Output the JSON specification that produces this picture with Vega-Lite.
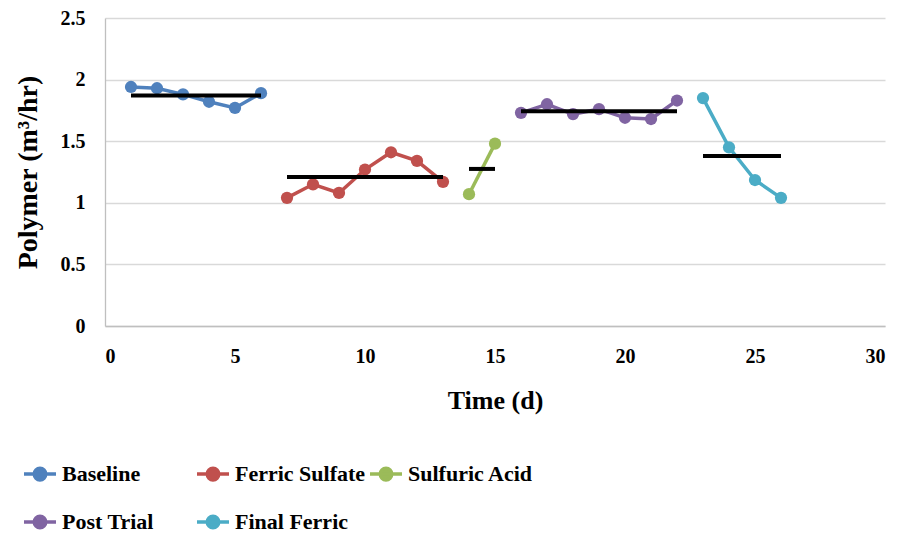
{
  "$schema": "https://vega.github.io/schema/vega-lite/v6.json",
  "width": 780,
  "height": 308,
  "autosize": {"type": "none"},
  "padding": {"left": 105, "top": 18, "right": 21, "bottom": 214},
  "background": "white",
  "config": {
    "font": "Liberation Serif",
    "view": {"stroke": null},
    "legend": {"labelFont": "Liberation Serif", "labelFontWeight": "bold", "labelFontSize": 22, "labelColor": "black"},
    "axis": {
      "labelFont": "Liberation Serif",
      "labelFontWeight": "bold",
      "labelColor": "black",
      "labelFontSize": 20,
      "titleFont": "Liberation Serif",
      "titleFontWeight": "bold",
      "titleColor": "black",
      "titleFontSize": 26,
      "domainColor": "#BFBFBF",
      "gridColor": "#D9D9D9",
      "gridWidth": 1.3,
      "domainWidth": 1.3,
      "ticks": false
    }
  },
  "datasets": {
    "points": [
      {"series": "Baseline", "day": 1, "polymer": 1.94},
      {"series": "Baseline", "day": 2, "polymer": 1.93},
      {"series": "Baseline", "day": 3, "polymer": 1.88},
      {"series": "Baseline", "day": 4, "polymer": 1.82},
      {"series": "Baseline", "day": 5, "polymer": 1.77},
      {"series": "Baseline", "day": 6, "polymer": 1.89},
      {"series": "Ferric Sulfate", "day": 7, "polymer": 1.04},
      {"series": "Ferric Sulfate", "day": 8, "polymer": 1.15},
      {"series": "Ferric Sulfate", "day": 9, "polymer": 1.08},
      {"series": "Ferric Sulfate", "day": 10, "polymer": 1.27},
      {"series": "Ferric Sulfate", "day": 11, "polymer": 1.41},
      {"series": "Ferric Sulfate", "day": 12, "polymer": 1.34},
      {"series": "Ferric Sulfate", "day": 13, "polymer": 1.17},
      {"series": "Sulfuric Acid", "day": 14, "polymer": 1.07},
      {"series": "Sulfuric Acid", "day": 15, "polymer": 1.48},
      {"series": "Post Trial", "day": 16, "polymer": 1.73},
      {"series": "Post Trial", "day": 17, "polymer": 1.8},
      {"series": "Post Trial", "day": 18, "polymer": 1.72},
      {"series": "Post Trial", "day": 19, "polymer": 1.76},
      {"series": "Post Trial", "day": 20, "polymer": 1.69},
      {"series": "Post Trial", "day": 21, "polymer": 1.68},
      {"series": "Post Trial", "day": 22, "polymer": 1.83},
      {"series": "Final Ferric", "day": 23, "polymer": 1.85},
      {"series": "Final Ferric", "day": 24, "polymer": 1.45},
      {"series": "Final Ferric", "day": 25, "polymer": 1.185},
      {"series": "Final Ferric", "day": 26, "polymer": 1.04}
    ],
    "means": [
      {"series": "Baseline", "start": 1, "end": 6, "mean": 1.87},
      {"series": "Ferric Sulfate", "start": 7, "end": 13, "mean": 1.21},
      {"series": "Sulfuric Acid", "start": 14, "end": 15, "mean": 1.275},
      {"series": "Post Trial", "start": 16, "end": 22, "mean": 1.744},
      {"series": "Final Ferric", "start": 23, "end": 26, "mean": 1.38}
    ]
  },
  "layer": [
    {
      "data": {"name": "points"},
      "mark": {"type": "line", "strokeWidth": 3.5, "point": {"filled": true, "size": 150, "opacity": 1}},
      "encoding": {
        "x": {
          "field": "day", "type": "quantitative",
          "scale": {"domain": [0, 30], "nice": false, "zero": false},
          "axis": {"values": [0, 5, 10, 15, 20, 25, 30], "title": "Time (d)", "grid": false, "labelPadding": 20, "titlePadding": 21}
        },
        "y": {
          "field": "polymer", "type": "quantitative",
          "scale": {"domain": [0, 2.5], "nice": false},
          "axis": {"values": [0, 0.5, 1, 1.5, 2, 2.5], "format": "~g", "title": "Polymer (m³/hr)", "labelPadding": 20, "titlePadding": 18, "titleFontSize": 28}
        },
        "color": {
          "field": "series", "type": "nominal",
          "scale": {
            "domain": ["Baseline", "Ferric Sulfate", "Sulfuric Acid", "Post Trial", "Final Ferric"],
            "range": ["#4F81BD", "#C0504D", "#9BBB59", "#8064A2", "#4BACC6"]
          },
          "legend": {
            "orient": "none",
            "legendX": -83,
            "legendY": 438,
            "columns": 3,
            "direction": "horizontal",
            "gridAlign": "all",
            "title": null,
            "symbolType": "M-1,0L1,0M0.36,0A0.36,0.36,0,1,1,-0.36,0A0.36,0.36,0,1,1,0.36,0Z",
            "symbolSize": 1024,
            "symbolStrokeWidth": 3.5,
            "labelFont": "Liberation Serif",
            "labelFontWeight": "bold",
            "labelFontSize": 22,
            "labelColor": "black",
            "labelOffset": 4,
            "columnPadding": -3,
            "rowPadding": 17,
            "encode": {
              "symbols": {
                "update": {
                  "fill": {"scale": "color", "field": "value"},
                  "stroke": {"scale": "color", "field": "value"},
                  "opacity": {"value": 1}
                }
              }
            }
          }
        },
        "order": {"field": "day", "type": "quantitative"}
      }
    },
    {
      "data": {"name": "means"},
      "mark": {"type": "rule", "color": "black", "strokeWidth": 4},
      "encoding": {
        "x": {"field": "start", "type": "quantitative"},
        "x2": {"field": "end"},
        "y": {"field": "mean", "type": "quantitative"}
      }
    }
  ]
}
